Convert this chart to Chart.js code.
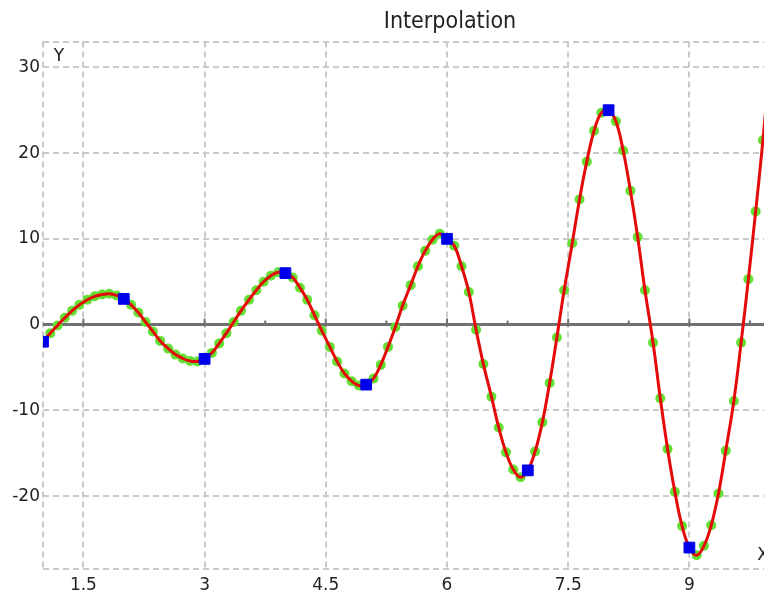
<!DOCTYPE html>
<html>
<head>
<meta charset="utf-8">
<script src="https://cdn.jsdelivr.net/npm/chart.js@4.4.1/dist/chart.umd.min.js"></script>
<style>
  html, body { margin: 0; padding: 0; background: #fff; }
  #wrap { width: 764px; height: 600px; overflow: hidden; }
</style>
</head>
<body>
<div id="wrap"><canvas id="chart" width="900" height="600"></canvas></div>
<script>
// control points (blue squares)
const knotX = [1, 2, 3, 4, 5, 6, 7, 8, 9, 10];
const knotY = [-2, 3, -4, 6, -7, 10, -17, 25, -26, 31];

// interpolated samples (green dots / red curve)
const sampleX = [
    1.00, 1.09, 1.18, 1.27, 1.36, 1.45, 1.55, 1.64, 1.73, 1.82, 1.91,
    2.00, 2.09, 2.18, 2.27, 2.36, 2.45, 2.55, 2.64, 2.73, 2.82, 2.91,
    3.00, 3.09, 3.18, 3.27, 3.36, 3.45, 3.55, 3.64, 3.73, 3.82, 3.91,
    4.00, 4.09, 4.18, 4.27, 4.36, 4.45, 4.55, 4.64, 4.73, 4.82, 4.91,
    5.00, 5.09, 5.18, 5.27, 5.36, 5.45, 5.55, 5.64, 5.73, 5.82, 5.91,
    6.00, 6.09, 6.18, 6.27, 6.36, 6.45, 6.55, 6.64, 6.73, 6.82, 6.91,
    7.00, 7.09, 7.18, 7.27, 7.36, 7.45, 7.55, 7.64, 7.73, 7.82, 7.91,
    8.00, 8.09, 8.18, 8.27, 8.36, 8.45, 8.55, 8.64, 8.73, 8.82, 8.91,
    9.00, 9.09, 9.18, 9.27, 9.36, 9.45, 9.55, 9.64, 9.73, 9.82, 9.91,
    10.00
];
const sampleY = [
    -2.0, -1.0, -0.1, 0.8, 1.6, 2.3, 2.9, 3.3, 3.5, 3.6, 3.4,
    3.0, 2.3, 1.4, 0.3, -0.8, -1.9, -2.8, -3.5, -3.95, -4.25, -4.3,
    -4.0, -3.3, -2.2, -1.0, 0.3, 1.6, 2.9, 4.0, 5.0, 5.7, 6.1,
    6.0, 5.5, 4.3, 2.9, 1.1, -0.7, -2.6, -4.3, -5.7, -6.6, -7.1,
    -7.0, -6.3, -4.7, -2.6, -0.3, 2.2, 4.6, 6.8, 8.6, 9.9, 10.6,
    10.0, 9.2, 6.8, 3.8, -0.6, -4.6, -8.4, -12.0, -14.9, -16.9, -17.8,
    -17.0, -14.8, -11.4, -6.8, -1.5, 4.0, 9.5, 14.6, 19.0, 22.6, 24.7,
    25.0, 23.7, 20.3, 15.6, 10.2, 4.0, -2.1, -8.6, -14.5, -19.5, -23.5,
    -26.0, -26.9, -25.8, -23.4, -19.7, -14.7, -8.9, -2.1, 5.3, 13.2, 21.5,
    31.0
];

const xTicks = [1.5, 3, 4.5, 6, 7.5, 9, 10.5];
const yTicks = [-20, -10, 0, 10, 20, 30];
const xRange = { min: 1, max: 11.5 };
const yRange = { min: -28.5, max: 33 };

const gridColor = 'rgb(202,202,202)';
const tickFont = { family: 'DejaVu Sans', size: 17 };

const axisDecor = {
    id: 'axisDecor',
    beforeDatasetsDraw(chart) {
        const { ctx, chartArea: a, scales: { x, y } } = chart;
        const y0 = y.getPixelForValue(0);
        ctx.save();
        ctx.strokeStyle = 'rgb(112,112,112)';
        ctx.lineWidth = 3;
        ctx.beginPath();
        ctx.moveTo(a.left, y0);
        ctx.lineTo(a.right, y0);
        ctx.stroke();
        ctx.lineWidth = 2;
        xTicks.forEach(v => {
            const px = x.getPixelForValue(v);
            ctx.beginPath();
            ctx.moveTo(px, y0 - 6);
            ctx.lineTo(px, y0 + 2);
            ctx.stroke();
            const mx = x.getPixelForValue(v - 0.75);
            if (mx > a.left + 2) {
                ctx.beginPath();
                ctx.moveTo(mx, y0 - 4);
                ctx.lineTo(mx, y0);
                ctx.stroke();
            }
        });
        ctx.restore();
    },
    afterDraw(chart) {
        const { ctx, chartArea: a } = chart;
        ctx.save();
        ctx.fillStyle = '#222';
        ctx.font = '17px "DejaVu Sans"';
        ctx.textAlign = 'center';
        ctx.textBaseline = 'middle';
        ctx.fillText('Y', a.left + 16, a.top + 15);
        ctx.fillText('X', a.left + 720, a.bottom - 13);
        ctx.restore();
    }
};

new Chart(document.getElementById('chart'), {
    type: 'line',
    data: {
        datasets: [
            {
                label: 'points',
                data: knotX.map((v, i) => ({ x: v, y: knotY[i] })),
                showLine: false,
                pointStyle: 'rect',
                pointRadius: 7.6,
                pointBackgroundColor: 'rgb(0,0,235)',
                pointBorderColor: 'rgb(0,0,235)',
                pointBorderWidth: 1,
                order: 0,
            },
            {
                label: 'curve',
                data: sampleX.map((v, i) => ({ x: v, y: sampleY[i] })),
                borderColor: 'rgb(228,10,10)',
                borderWidth: 3,
                pointRadius: 0,
                tension: 0.4,
                fill: false,
                order: 1,
            },
            {
                label: 'samples',
                data: sampleX.map((v, i) => ({ x: v, y: sampleY[i] })),
                showLine: false,
                pointRadius: 5,
                pointBackgroundColor: 'rgb(100,224,52)',
                pointBorderWidth: 0,
                order: 2,
            }
        ]
    },
    options: {
        responsive: false,
        animation: false,
        layout: { padding: { left: 0, right: 0, top: 0, bottom: 0 } },
        plugins: {
            legend: { display: false },
            tooltip: { enabled: false },
            title: {
                display: true,
                text: 'Interpolation',
                color: '#222',
                font: { family: 'DejaVu Sans Condensed', size: 23, weight: 'normal', lineHeight: 1.2 },
                padding: { top: 8, bottom: 6 },
            }
        },
        scales: {
            x: {
                type: 'linear',
                min: xRange.min,
                max: xRange.max,
                afterBuildTicks: scale => {
                    scale.ticks = [xRange.min, ...xTicks, xRange.max].map(v => ({ value: v }));
                },
                afterFit: scale => { scale.height = 31; },
                grid: { color: gridColor, lineWidth: 2, drawTicks: false },
                border: { display: false, dash: [6, 4] },
                ticks: {
                    color: '#222',
                    font: tickFont,
                    padding: 6,
                    maxRotation: 0,
                    autoSkip: false,
                    callback: v => xTicks.includes(v) ? String(v) : '',
                },
            },
            y: {
                type: 'linear',
                min: yRange.min,
                max: yRange.max,
                afterBuildTicks: scale => {
                    scale.ticks = [yRange.min, ...yTicks, yRange.max].map(v => ({ value: v }));
                },
                afterFit: scale => { scale.width = 43; },
                grid: { color: gridColor, lineWidth: 2, drawTicks: false },
                border: { display: false, dash: [6, 4] },
                ticks: {
                    color: '#222',
                    font: tickFont,
                    padding: 3,
                    autoSkip: false,
                    callback: v => yTicks.includes(v) ? String(v) : '',
                },
            }
        }
    },
    plugins: [axisDecor]
});
</script>
</body>
</html>
